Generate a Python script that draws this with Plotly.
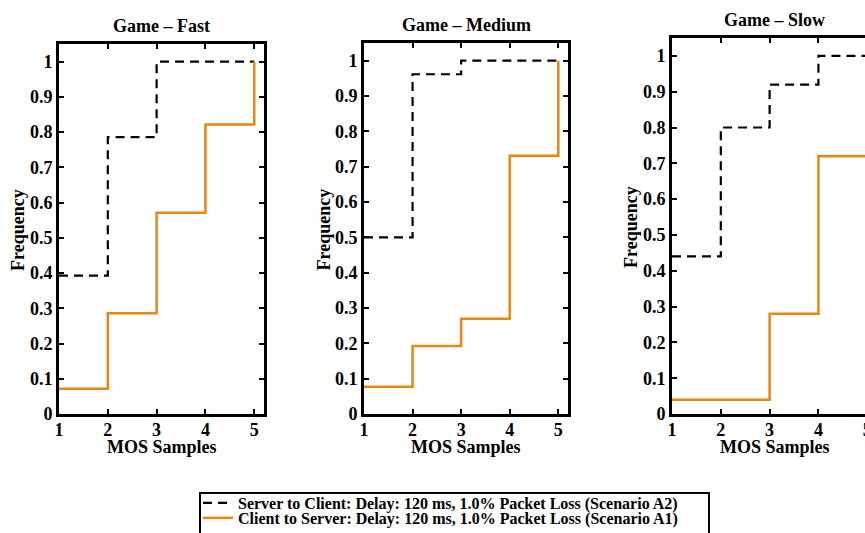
import plotly.graph_objects as go

# MOS sample positions and cumulative frequencies per game speed
mos = [1, 2, 3, 4, 5]

fast_s2c = [11/28, 22/28, 1.0, 1.0, 1.0]
fast_c2s = [2/28, 8/28, 16/28, 23/28, 1.0]

medium_s2c = [13/26, 25/26, 1.0, 1.0, 1.0]
medium_c2s = [2/26, 5/26, 7/26, 19/26, 1.0]

slow_s2c = [11/25, 20/25, 23/25, 1.0, 1.0]
slow_c2s = [1/25, 1/25, 7/25, 18/25, 1.0]

titles = ["Game \u2013 Fast", "Game \u2013 Medium", "Game \u2013 Slow"]
label_s2c = "Server to Client: Delay: 120 ms, 1.0% Packet Loss (Scenario A2)"
label_c2s = "Client to Server: Delay: 120 ms, 1.0% Packet Loss (Scenario A1)"

ytick_vals = [0, 0.1, 0.2, 0.3, 0.4, 0.5, 0.6, 0.7, 0.8, 0.9, 1.0]
ytick_text = ["0", "0.1", "0.2", "0.3", "0.4", "0.5", "0.6", "0.7", "0.8", "0.9", "1"]

W, H = 880, 533
FONT = "Liberation Serif, Times New Roman, serif"
ORANGE = "#E8870F"


def px_x(p):
    return p / W


def px_y(p):
    return 1 - p / H


# panel boxes in pixels: (left, right, top, bottom)
boxes = [(59, 264, 44, 414), (364, 568, 43, 414), (672, 877, 38, 414)]

fig = go.Figure()
series = [(fast_s2c, fast_c2s), (medium_s2c, medium_c2s), (slow_s2c, slow_c2s)]

for i, ((s2c, c2s), (l, r, t, b)) in enumerate(zip(series, boxes)):
    n = "" if i == 0 else str(i + 1)
    fig.add_trace(go.Scatter(
        x=mos, y=s2c, mode="lines", line_shape="hv",
        line=dict(color="black", width=2.2, dash="9px,6px"),
        name=label_s2c, showlegend=(i == 0), legend="legend",
        xaxis="x" + n, yaxis="y" + n))
    fig.add_trace(go.Scatter(
        x=mos, y=c2s, mode="lines", line_shape="hv",
        line=dict(color=ORANGE, width=2.5),
        name=label_c2s, showlegend=(i == 0), legend="legend2",
        xaxis="x" + n, yaxis="y" + n))

    axis_common = dict(
        showline=True, linecolor="black", linewidth=3, mirror="ticks",
        ticks="inside", ticklen=5, tickwidth=2, tickcolor="black",
        showgrid=False, zeroline=False, fixedrange=True,
        tickfont=dict(family=FONT, size=18, color="black", weight="bold"),
    )
    fig.layout["xaxis" + n] = dict(
        axis_common, domain=[px_x(l), px_x(r)], range=[1, 5.2],
        tickvals=mos, ticktext=[str(v) for v in mos],
        ticklabelstandoff=-3,
        anchor="y" + n)
    fig.layout["yaxis" + n] = dict(
        axis_common, domain=[px_y(b), px_y(t)], range=[0, 1.05],
        tickvals=ytick_vals, ticktext=ytick_text,
        anchor="x" + n)

    cx = (l + r) / 2
    fig.add_annotation(text=titles[i], x=px_x(cx), y=px_y(t - 18),
                       xref="paper", yref="paper", showarrow=False,
                       xanchor="center", yanchor="middle",
                       font=dict(family=FONT, size=18, color="black", weight="bold"))
    fig.add_annotation(text="MOS Samples", x=px_x(cx), y=px_y(447),
                       xref="paper", yref="paper", showarrow=False,
                       xanchor="center", yanchor="middle",
                       font=dict(family=FONT, size=18, color="black", weight="bold"))
    fig.add_annotation(text="Frequency", x=px_x(l - 41), y=px_y((t + b) / 2 + 1),
                       xref="paper", yref="paper", showarrow=False, textangle=-90,
                       xanchor="center", yanchor="middle",
                       font=dict(family=FONT, size=18, color="black", weight="bold"))

legend_style = dict(
    xanchor="left", yanchor="middle", bgcolor="rgba(0,0,0,0)", borderwidth=0,
    font=dict(family=FONT, size=16, color="black", weight="bold"),
)

fig.update_layout(
    width=W, height=H, autosize=False,
    margin=dict(l=0, r=0, t=0, b=0, autoexpand=False),
    paper_bgcolor="white", plot_bgcolor="white",
    showlegend=True,
    legend=dict(legend_style, x=px_x(198), y=px_y(503)),
    legend2=dict(legend_style, x=px_x(198), y=px_y(518)),
    shapes=[dict(type="rect", xref="paper", yref="paper",
                 x0=px_x(200), x1=px_x(709), y0=px_y(493), y1=px_y(545),
                 line=dict(color="black", width=2), fillcolor="rgba(0,0,0,0)")],
)

fig.write_html(
    "out.html",
    post_script="document.documentElement.style.overflow='hidden';"
                "document.body.style.overflow='hidden';",
)
